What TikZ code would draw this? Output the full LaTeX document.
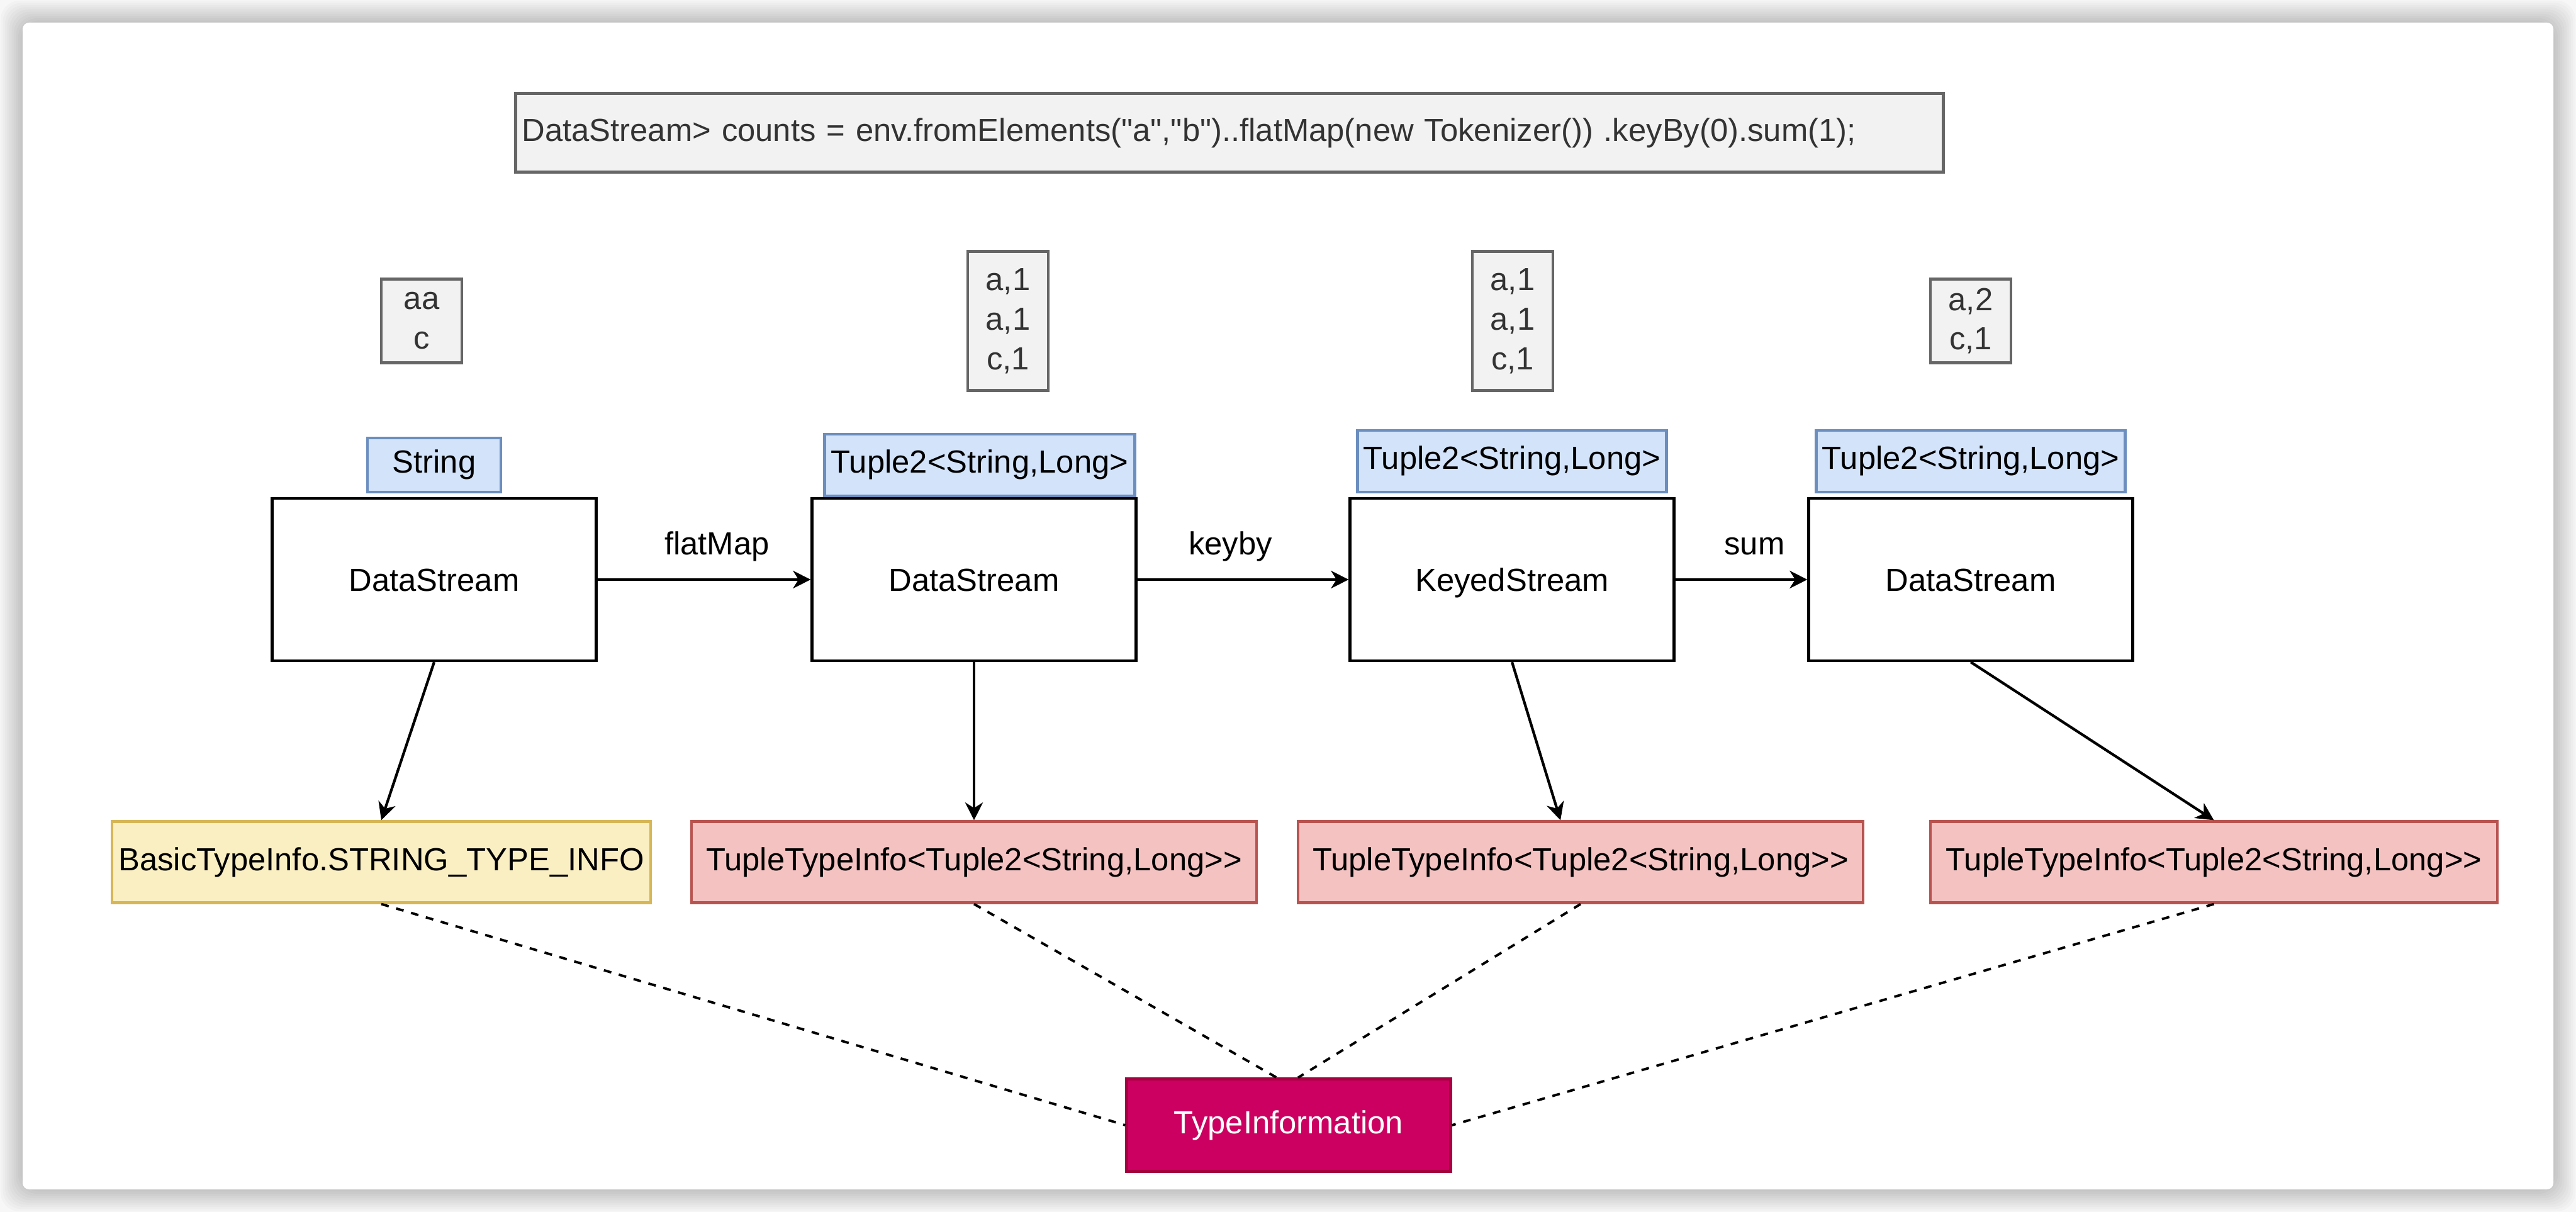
\documentclass[tikz,border=0pt]{standalone}
\usepackage{fontspec}
\setmainfont{Liberation Sans}
\newfontfamily\codefont{Liberation Sans}
\usetikzlibrary{arrows.meta, positioning, calc}
\definecolor{codefill}{RGB}{242, 242, 242}
\definecolor{codeline}{RGB}{102, 102, 102}
\definecolor{typefill}{RGB}{210, 227, 250}
\definecolor{typeline}{RGB}{108, 142, 191}
\definecolor{basicfill}{RGB}{250, 239, 194}
\definecolor{basicline}{RGB}{214, 182, 86}
\definecolor{tuplefill}{RGB}{245, 194, 194}
\definecolor{tupleline}{RGB}{184, 84, 80}
\definecolor{rootfill}{RGB}{204, 0, 96}
\definecolor{rootline}{RGB}{165, 0, 64}
\tikzset{
    every node/.style={font=\fontsize{14.45pt}{17.9pt}\selectfont},
    codebox/.style={draw=codeline, fill=codefill, line width=1.2pt,
        text=black!80},
    databox/.style={codebox, minimum width=1.28cm, inner sep=0pt,
        align=center},
    streambox/.style={draw, line width=1.2pt, minimum width=5.15cm,
        minimum height=2.58cm, text height=10.4pt, text depth=0pt},
    typebox/.style={draw=typeline, fill=typefill, line width=1.2pt,
        minimum height=.98cm, inner sep=0pt},
    infobox/.style={draw=tupleline, fill=tuplefill, line width=1.2pt,
        minimum width=8.98cm, minimum height=1.29cm, inner sep=0pt},
    flow/.style={-{Stealth[length=8pt, width=8pt, inset=2.5pt]},
        line width=1.2pt},
    link/.style={dash pattern=on 3.5pt off 3.5pt, line width=1.1pt},
}

\begin{document}
\begin{tikzpicture}
    \useasboundingbox (0, 0) rectangle (40.94, -19.26);
    % card with its shadow
    \fill[black!3] (0, 0) rectangle (40.94, -19.26);
    \foreach \k in {1, ..., 10} {
        \fill[black, opacity=.02, rounded corners=.3cm]
            (0.36-.035*\k, -0.36+.035*\k) rectangle (40.58+.035*\k, -18.90-.035*\k);
    }
    \fill[white, rounded corners=.1cm] (0.36, -0.36) rectangle (40.58, -18.90);

    \node[codebox, minimum width=22.69cm, minimum height=1.25cm,
        text width=22.49cm, inner xsep=.1cm, inner ysep=0pt, align=left]
        (code) at (19.54, -2.11) {\codefont DataStream> counts =
        env.fromElements("a","b")..flatMap(new Tokenizer()) .keyBy(0).sum(1);};

    % sample records
    \node[databox, minimum height=1.33cm] (in1) at (6.70, -5.10) {aa\\c};
    \node[databox, minimum height=2.21cm] (in2) at (16.02, -5.10)
        {a,1\\a,1\\c,1};
    \node[databox, minimum height=2.21cm] (in3) at (24.04, -5.10)
        {a,1\\a,1\\c,1};
    \node[databox, minimum height=1.33cm] (in4) at (31.32, -5.10) {a,2\\c,1};

    % streams
    \node[streambox] (ds1) at (6.90, -9.21) {DataStream};
    \node[streambox] (ds2) at (15.48, -9.21) {DataStream};
    \node[streambox] (ks) at (24.03, -9.21) {KeyedStream};
    \node[streambox] (ds3) at (31.32, -9.21) {DataStream};

    \node[typebox, minimum width=2.12cm, minimum height=.86cm,
        above=.06cm of ds1] (ty1) {String};
    \node[typebox, minimum width=4.93cm, above=0pt of ds2, xshift=.09cm]
        (ty2) {Tuple2<String,Long>};
    \node[typebox, minimum width=4.91cm, above=.06cm of ks] (ty3)
        {Tuple2<String,Long>};
    \node[typebox, minimum width=4.91cm, above=.06cm of ds3] (ty4)
        {Tuple2<String,Long>};

    % type infos
    \node[infobox, draw=basicline, fill=basicfill, minimum width=8.56cm]
        (basic) at (6.06, -13.70) {BasicTypeInfo.STRING\_TYPE\_INFO};
    \node[infobox] (tuple1) at (15.48, -13.70)
        {TupleTypeInfo<Tuple2<String,Long>{}>};
    \node[infobox] (tuple2) at (25.12, -13.70)
        {TupleTypeInfo<Tuple2<String,Long>{}>};
    \node[infobox, minimum width=9.01cm] (tuple3) at (35.185, -13.70)
        {TupleTypeInfo<Tuple2<String,Long>{}>};

    \node[draw=rootline, fill=rootfill, text=white, line width=1.2pt,
        minimum width=5.15cm, minimum height=1.47cm] (root) at (20.48, -17.88)
        {TypeInformation};

    \draw[flow] (ds1) -- node[pos=.56, yshift=.53cm] {flatMap} (ds2);
    \draw[flow] (ds2) -- node[pos=.44, yshift=.53cm] {keyby} (ks);
    \draw[flow] (ks) -- node[pos=.6, yshift=.53cm] {sum} (ds3);

    \draw[flow] (ds1.south) -- (basic.north);
    \draw[flow] (ds2.south) -- (tuple1.north);
    \draw[flow] (ks.south) -- ([xshift=-.32cm]tuple2.north);
    \draw[flow] (ds3.south) -- (tuple3.north);

    \draw[link] (basic.south) -- (root.west);
    \draw[link] (tuple1.south) -- ([xshift=-.19cm]root.north);
    \draw[link] (tuple2.south) -- ([xshift=.15cm]root.north);
    \draw[link] (tuple3.south) -- (root.east);
\end{tikzpicture}
\end{document}
